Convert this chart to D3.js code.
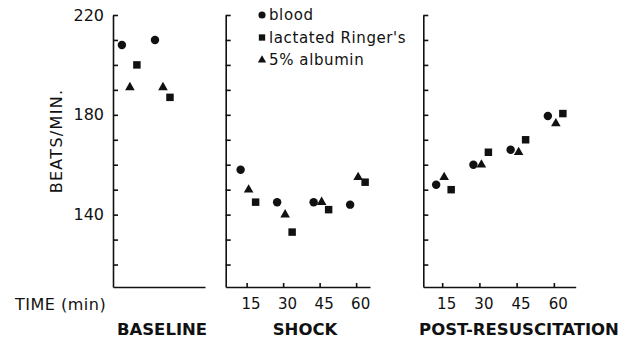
<!DOCTYPE html>
<html>
<head>
<meta charset="utf-8">
<script src="https://cdn.jsdelivr.net/npm/d3@7"></script>
<style>
  body { margin: 0; background: #fff; }
  svg { display: block; font-family: "DejaVu Sans", sans-serif; }
</style>
</head>
<body>
<svg id="chart" width="629" height="339"></svg>
<script>
// ------------ DATA -----------------

const seriesNames = ["blood", "lactated Ringer's", "5% albumin"];

// two baseline readings
const baselineIdx = [1, 2];
const baselineBlood = [208, 210];
const baselineLR = [200, 187];
const baselineAlb = [191, 191];

// minutes after onset
const times = [15, 30, 45, 60];
const shockBlood = [158, 145, 145, 144];
const shockLR = [145, 133, 142, 153];
const shockAlb = [150, 140, 145, 155];

const postBlood = [152, 160, 166, 179.5];
const postLR = [150, 165, 170, 180.5];
const postAlb = [155, 160, 165, 176.5];

const yTicks = [120, 130, 140, 150, 160, 170, 180, 190, 200, 210, 220];
const yLabels = [140, 180, 220];

// ------------ SETUP -----------------

const svg = d3.select("#chart");
const ink = "#111";

const y = d3.scaleLinear().domain([111, 220]).range([287, 15]);

const symbolFor = {
  "blood": d3.symbol().type(d3.symbolCircle).size(56),
  "lactated Ringer's": d3.symbol().type(d3.symbolSquare).size(56),
  "5% albumin": d3.symbol().type(d3.symbolTriangle).size(40),
};
// little sideways shift so the three groups don't sit on top of each other
const dodge = { "blood": -6, "lactated Ringer's": 9, "5% albumin": 2 };

const panels = [
  { name: "BASELINE", mid: 162, x: d3.scaleLinear().domain([0.55, 3.33]).range([113, 205]),
    xs: baselineIdx, series: [baselineBlood, baselineLR, baselineAlb], ticks: [], yLabels: true },
  { name: "SHOCK", mid: 305, x: d3.scaleLinear().domain([6.4, 65.7]).range([225.7, 370]),
    xs: times, series: [shockBlood, shockLR, shockAlb], ticks: times, yLabels: false },
  { name: "POST-RESUSCITATION", mid: 519, x: d3.scaleLinear().domain([7.4, 68.8]).range([423.3, 575.7]),
    xs: times, series: [postBlood, postLR, postAlb], ticks: times, yLabels: false },
];

// ------------ DRAWING -----------------

panels.forEach(p => {
  const x0 = p.x.range()[0];

  const yAxis = svg.append("g")
    .attr("transform", `translate(${x0},0)`)
    .call(d3.axisLeft(y).tickValues(yTicks).tickSizeInner(-5).tickSizeOuter(0).tickPadding(9)
      .tickFormat(d => p.yLabels && yLabels.includes(d) ? d : ""));

  const xAxis = svg.append("g")
    .attr("transform", `translate(0,${y.range()[0]})`)
    .call(d3.axisBottom(p.x).tickValues(p.ticks).tickSizeInner(-4).tickSizeOuter(0).tickFormat(d3.format("d")));

  [yAxis, xAxis].forEach(g => {
    g.selectAll("path, line").attr("stroke", ink).attr("stroke-width", 1.6);
    g.selectAll("text").attr("fill", ink).attr("font-family", "DejaVu Sans");
  });
  yAxis.selectAll("text").attr("font-size", 16);
  xAxis.selectAll("text").attr("font-size", 15).attr("y", 22).attr("dy", 0).attr("dx", 4);

  p.series.forEach((vals, i) => {
    const key = seriesNames[i];
    svg.append("g").selectAll("path")
      .data(vals.map((v, j) => ({ t: p.xs[j], v })))
      .join("path")
      .attr("d", symbolFor[key])
      .attr("fill", ink)
      .attr("transform", d => `translate(${p.x(d.t) + dodge[key]},${y(d.v)})`);
  });

  svg.append("text")
    .attr("x", p.mid).attr("y", 335)
    .attr("text-anchor", "middle")
    .attr("font-size", 16.5).attr("font-weight", "bold")
    .attr("fill", ink)
    .text(p.name);
});

svg.append("text")
  .attr("transform", "translate(62,141) rotate(-90)")
  .attr("text-anchor", "middle")
  .attr("font-size", 16).attr("letter-spacing", 1.3)
  .attr("fill", ink)
  .text("BEATS/MIN.");

svg.append("text")
  .attr("x", 15).attr("y", 310)
  .attr("font-size", 16).attr("letter-spacing", 0.5)
  .attr("fill", ink)
  .text("TIME (min)");

// ------------ LEGEND -----------------

const legend = svg.append("g").attr("transform", "translate(262,0)");
const legendY = [15, 37.5, 60];

seriesNames.forEach((key, i) => {
  legend.append("path")
    .attr("d", d3.symbol().type(symbolFor[key].type()).size(key === "5% albumin" ? 30 : 40)())
    .attr("fill", ink)
    .attr("transform", `translate(0,${legendY[i]})`);
  legend.append("text")
    .attr("x", 7).attr("y", legendY[i] + 5)
    .attr("font-size", 15).attr("letter-spacing", 0.6)
    .attr("fill", ink)
    .text(key);
});
</script>
</body>
</html>
